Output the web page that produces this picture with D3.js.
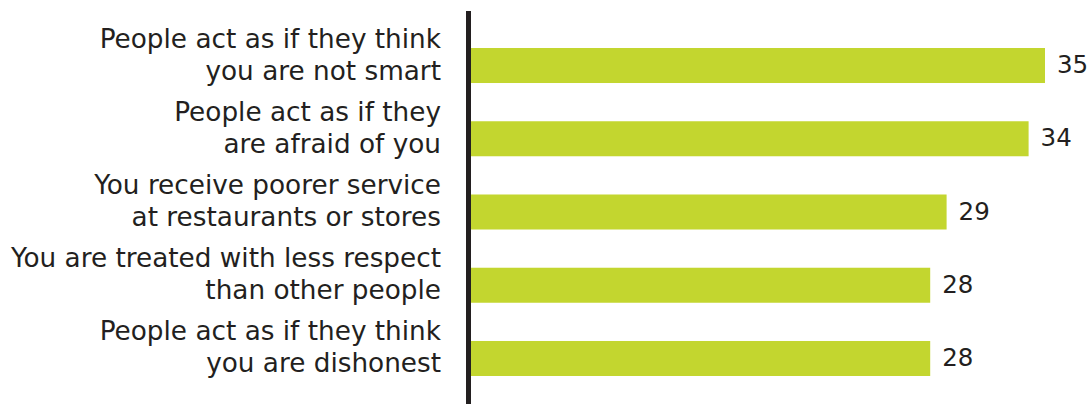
<!DOCTYPE html>
<html>
<head>
<meta charset="utf-8">
<script src="https://cdn.jsdelivr.net/npm/d3@7"></script>
<style>
  html, body { margin: 0; padding: 0; background: #fff; }
  svg { display: block; }
  text { font-family: "DejaVu Sans", sans-serif; fill: #231f20; }
</style>
</head>
<body>
<svg id="chart" width="1089" height="404"></svg>
<script>
// Survey items (two lines each) and share of respondents
const categories = [
  ["People act as if they think", "you are not smart"],
  ["People act as if they", "are afraid of you"],
  ["You receive poorer service", "at restaurants or stores"],
  ["You are treated with less respect", "than other people"],
  ["People act as if they think", "you are dishonest"]
];
const values = [35, 34, 29, 28, 28];

const svg = d3.select("#chart");
const W = 1089, H = 404;
const x0 = 471;

const x = d3.scaleLinear().domain([0, 35]).range([x0, 1045]);
const y = d3.scaleBand()
  .domain(d3.range(categories.length))
  .range([29.7, 394.3])
  .paddingInner(0.522)
  .paddingOuter(0.25);

// Bars
svg.append("g").selectAll("rect")
  .data(values)
  .join("rect")
  .attr("x", x(0))
  .attr("y", (d, i) => y(i))
  .attr("width", d => x(d) - x(0))
  .attr("height", y.bandwidth())
  .attr("fill", "#c3d62f");

// Vertical baseline
svg.append("rect")
  .attr("x", x0 - 5)
  .attr("y", 11)
  .attr("width", 5)
  .attr("height", H - 11)
  .attr("fill", "#231f20");

// Category labels, right aligned to the left of the baseline
const labels = svg.append("g").selectAll("text")
  .data(categories)
  .join("text")
  .attr("text-anchor", "end")
  .attr("font-size", 26.3)
  .attr("y", (d, i) => y(i) + y.bandwidth() / 2);
labels.selectAll("tspan")
  .data(d => d)
  .join("tspan")
  .attr("x", 441)
  .attr("dy", (d, j) => j === 0 ? -18 : 32)
  .text(d => d);

// Value labels
svg.append("g").selectAll("text")
  .data(values)
  .join("text")
  .attr("x", d => x(d) + 12)
  .attr("y", (d, i) => y(i) + y.bandwidth() / 2 + 7.5)
  .attr("font-size", 24.5)
  .text(d => d);
</script>
</body>
</html>
